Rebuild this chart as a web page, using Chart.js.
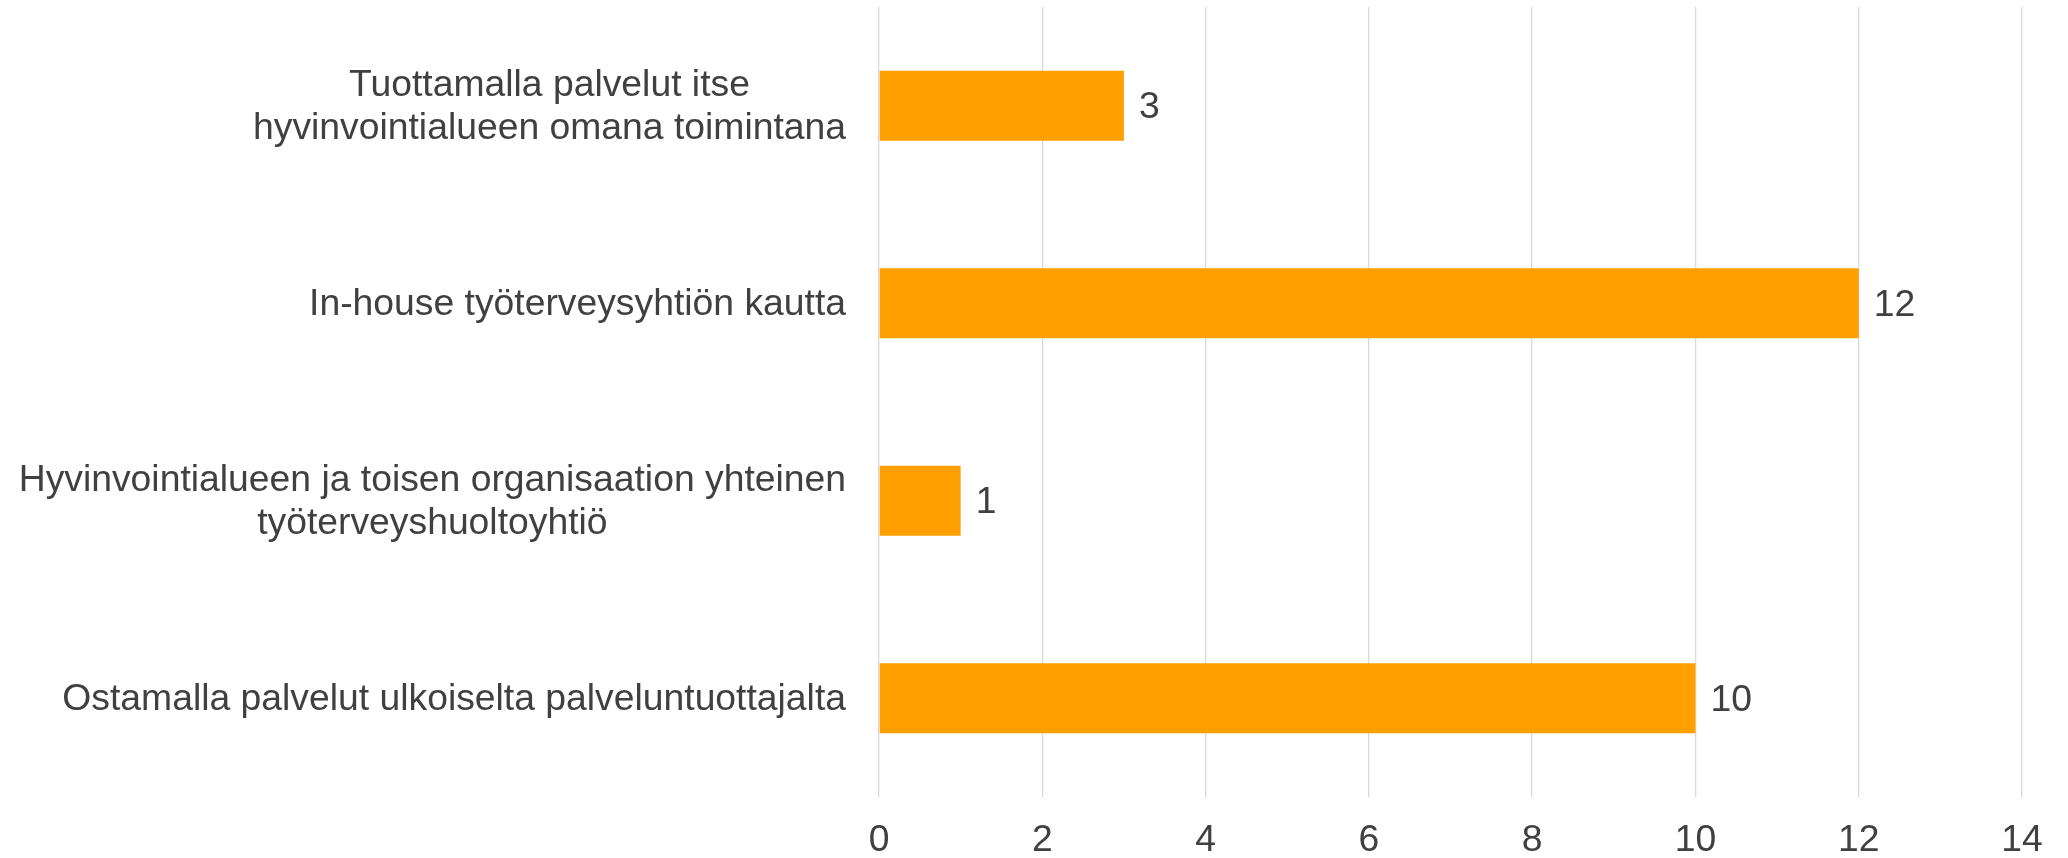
<!DOCTYPE html>
<html>
<head>
<meta charset="utf-8">
<script src="https://cdn.jsdelivr.net/npm/chart.js@4"></script>
<style>
  body { margin: 0; background: #fff; }
  canvas { display: block; }
</style>
</head>
<body>
<canvas id="chart" width="2068" height="858"></canvas>
<script>
// Categories (top to bottom) and values
const categories = [
  ['Tuottamalla palvelut itse', 'hyvinvointialueen omana toimintana'],
  'In-house työterveysyhtiön kautta',
  ['Hyvinvointialueen ja toisen organisaation yhteinen', 'työterveyshuoltoyhtiö'],
  'Ostamalla palvelut ulkoiselta palveluntuottajalta'
];
const values = [3, 12, 1, 10];
const xTicks = [0, 2, 4, 6, 8, 10, 12, 14];

const FONT = '"Liberation Sans", Arial, sans-serif';
const TEXT = '#404040';
const FSIZE = 37.3;

// Category labels: block right-aligned at axis, lines centred inside block
const catLabels = {
  id: 'catLabels',
  afterDraw(chart) {
    const ctx = chart.ctx;
    const ys = chart.scales.y;
    ctx.save();
    ctx.font = FSIZE + 'px ' + FONT;
    ctx.fillStyle = TEXT;
    ctx.textAlign = 'center';
    ctx.textBaseline = 'middle';
    categories.forEach((lab, i) => {
      const lines = Array.isArray(lab) ? lab : [lab];
      const w = Math.max(...lines.map(l => ctx.measureText(l).width));
      const cx = ys.right - 33 - w / 2;
      const cy = ys.getPixelForTick(i) + 1;
      lines.forEach((l, j) => {
        ctx.fillText(l, cx, cy + (j - (lines.length - 1) / 2) * 43);
      });
    });
    ctx.restore();
  }
};

// Value labels at the end of each bar
const valueLabels = {
  id: 'valueLabels',
  afterDatasetsDraw(chart) {
    const ctx = chart.ctx;
    ctx.save();
    ctx.font = FSIZE + 'px ' + FONT;
    ctx.fillStyle = TEXT;
    ctx.textAlign = 'left';
    ctx.textBaseline = 'middle';
    chart.getDatasetMeta(0).data.forEach((bar, i) => {
      ctx.fillText(String(values[i]), bar.x + 15, bar.y + 2);
    });
    ctx.restore();
  }
};

function draw() {
  new Chart(document.getElementById('chart'), {
    type: 'bar',
    data: {
      labels: categories,
      datasets: [{
        data: values,
        backgroundColor: '#FFA000',
        borderWidth: 0,
        barPercentage: 0.354,
        categoryPercentage: 1
      }]
    },
    options: {
      indexAxis: 'y',
      responsive: false,
      animation: false,
      layout: { padding: { top: 7, right: 46, left: 0, bottom: 0 } },
      plugins: { legend: { display: false }, tooltip: { enabled: false } },
      scales: {
        x: {
          min: 0,
          max: 14,
          afterBuildTicks: (s) => { s.ticks = xTicks.map(v => ({ value: v })); },
          afterFit: (s) => { s.height = 61; },
          grid: { color: '#d9d9d9', lineWidth: 1.3, drawTicks: false },
          border: { display: false },
          ticks: {
            padding: 21,
            color: TEXT,
            font: { family: FONT, size: FSIZE }
          }
        },
        y: {
          afterFit: (s) => { s.width = 879; },
          grid: { display: false },
          border: { display: false },
          ticks: { display: false }
        }
      }
    },
    plugins: [catLabels, valueLabels]
  });
}

// wait for the font so canvas text uses it
document.fonts.load('37px "Liberation Sans"').then(draw, draw);
</script>
</body>
</html>
